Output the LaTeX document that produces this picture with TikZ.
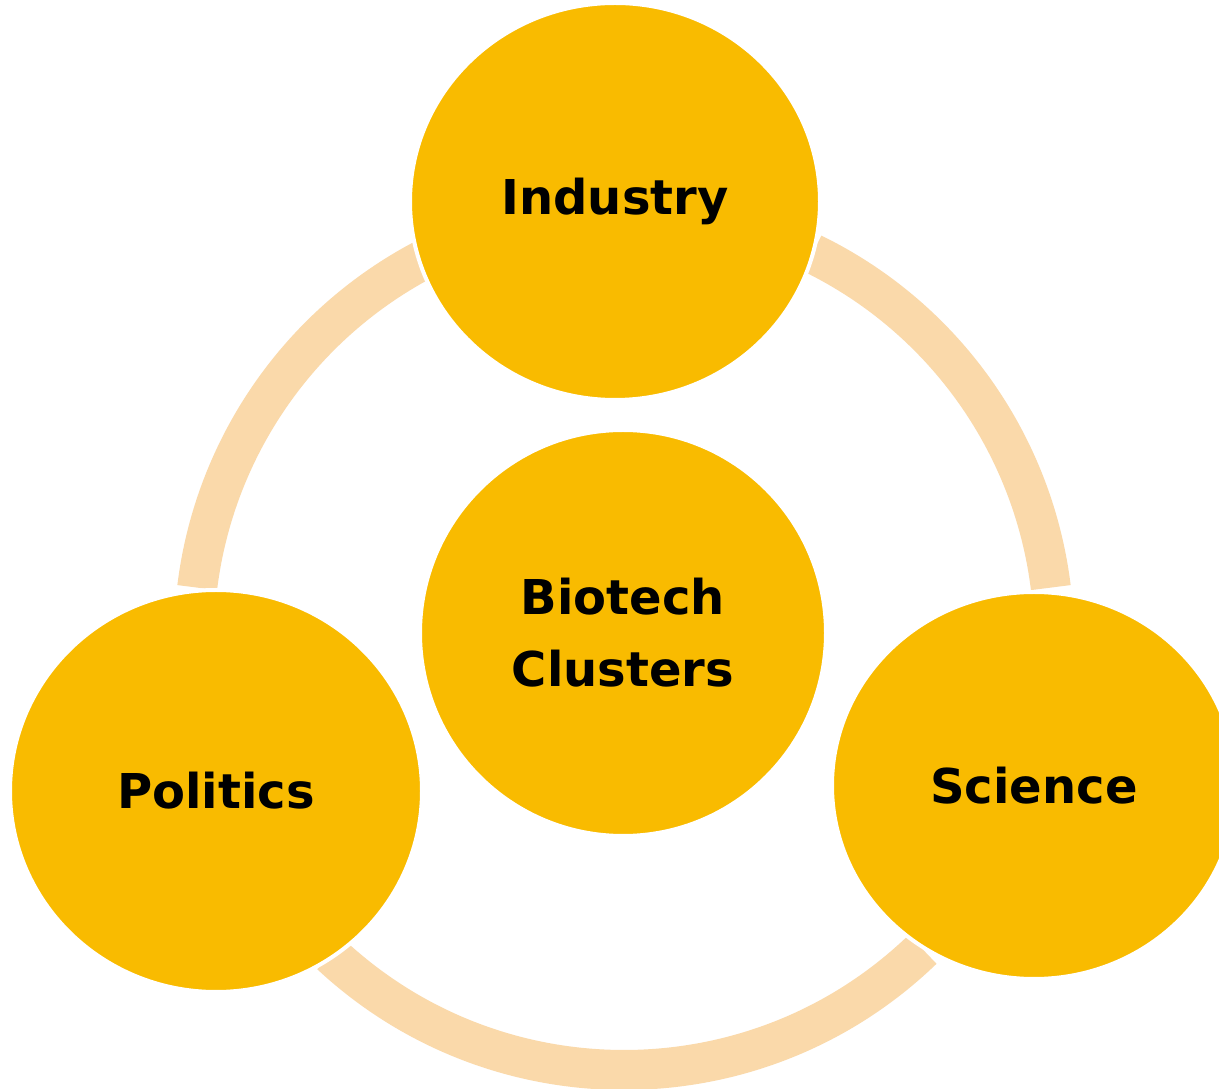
\documentclass[tikz,border=0pt]{standalone}
\usepackage{fontspec}
\setmainfont{DejaVu Sans}
\usetikzlibrary{shapes.geometric}
\definecolor{hub}{RGB}{249,187,0}
\definecolor{ringc}{RGB}{250,217,170}
\begin{document}
\begin{tikzpicture}[x=1pt,y=1pt,
  bubble/.style={ellipse, fill=hub, draw=white, line width=4pt, inner sep=0pt,
    font=\fontsize{48}{72}\selectfont\bfseries, align=center, text=black},
  ringarc/.style={draw=ringc, line width=40pt}]
\useasboundingbox (0,0) rectangle (1219,1088);
\clip (0,0) rectangle (1219,1088);
\fill[white] (0,0) rectangle (1219,1088);
\coordinate (C) at (624,448);
% ring arcs
\draw[ringarc] ([shift={(118:430)}]C) arc[start angle=118, end angle=173, radius=430];
\draw[ringarc] ([shift={(7:430)}]C) arc[start angle=7, end angle=64, radius=430];
\draw[ringarc] ([shift={(227:430)}]C) arc[start angle=227, end angle=314, radius=430];
% circles
\node[bubble, minimum width=410pt, minimum height=397pt] (industry) at (615,886.5) {Industry};
\node[bubble, minimum width=406pt, minimum height=406pt] (biotech) at (623,455) {Biotech\\Clusters};
\node[bubble, minimum width=412pt, minimum height=402pt] (politics) at (216,297) {Politics};
\node[bubble, minimum width=404pt, minimum height=387pt] (science) at (1034,302.5) {Science};
\end{tikzpicture}
\end{document}
